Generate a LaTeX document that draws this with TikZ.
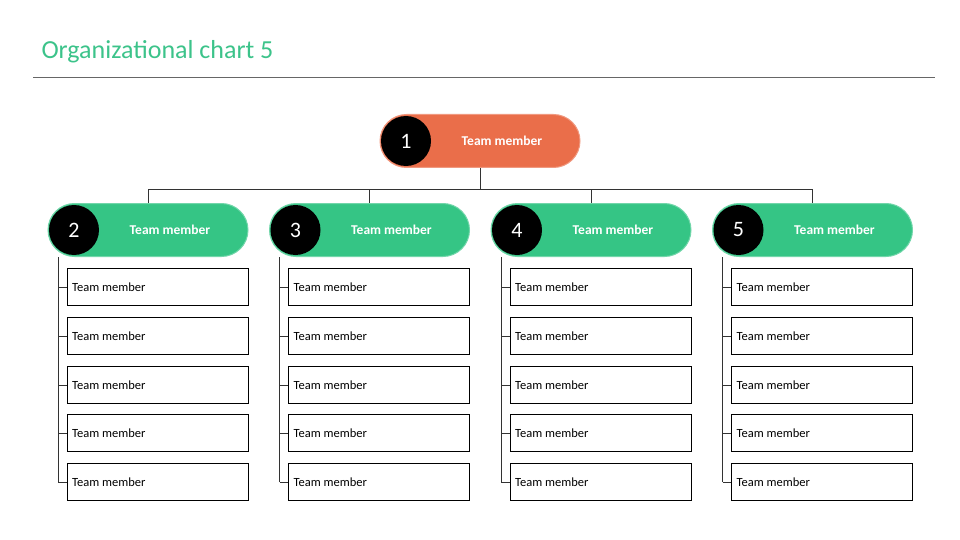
\documentclass[tikz,border=0pt]{standalone}
\usepackage{fontspec}
\setmainfont{Carlito}
\definecolor{og}{HTML}{EA6E4A}
\definecolor{gr}{HTML}{35C585}
\definecolor{tt}{HTML}{3CC38A}
\begin{document}
\begin{tikzpicture}[x=1pt,y=-1pt,
 pill/.style={rounded corners=26.5pt,minimum width=200pt,minimum height=53pt,inner sep=0pt},
 num/.style={circle,fill=black,minimum size=50pt,inner sep=0pt,text=white,font=\fontsize{22}{22}\selectfont},
 ptxt/.style={text=white,font=\fontsize{13.5}{14}\selectfont\bfseries},
 box/.style={draw=black,line width=0.8pt,minimum width=181pt,minimum height=37pt,inner sep=0pt},
 btxt/.style={font=\fontsize{12.5}{13}\selectfont,anchor=west},
 ln/.style={draw=black!80,line width=0.8pt}]
\useasboundingbox (0,0) rectangle (960,540);
\node[anchor=west,text=tt,font=\fontsize{26}{26}\selectfont] (title) at (38,52) {Organizational chart 5};
\draw[black!60,line width=1pt] (33,78) -- (935,78);
\node[pill,fill=og,draw=og!70!white,line width=1pt] (top) at (480,141) {};
\node[num] (n1) at (406,141) {1};
\node[ptxt] (t1) at (502,141) {Team member};
\coordinate (hb) at (480,189);
\draw[ln] (top.south) -- (hb);
\draw[ln] (148,189) coordinate (hl) -- (812,189) coordinate (hr);
\foreach \i/\x in {2/48,3/269.5,4/491,5/712.5}{
  \node[pill,fill=gr,draw=gr!70!white,line width=1pt] (p\i) at (\x+100,230) {};
  \node[num] (n\i) at (\x+26,230) {\i};
  \node[ptxt] (t\i) at (\x+122,230) {Team member};
  \coordinate (d\i) at (\x+100,189);
  \draw[ln] (d\i) -- (p\i.north);
  \coordinate (v\i) at (\x+10,257);
  \foreach \j/\y in {1/287,2/336,3/385,4/433,5/482}{
    \node[box] (b\i\j) at (\x+109.5,\y) {};
    \node[btxt] at (b\i\j.west) {\hspace{2pt}Team member};
    \draw[ln] (\x+10,\y) -- (b\i\j.west);
  }
  \draw[ln] (v\i) -- (\x+10,482);
}
\end{tikzpicture}
\end{document}
